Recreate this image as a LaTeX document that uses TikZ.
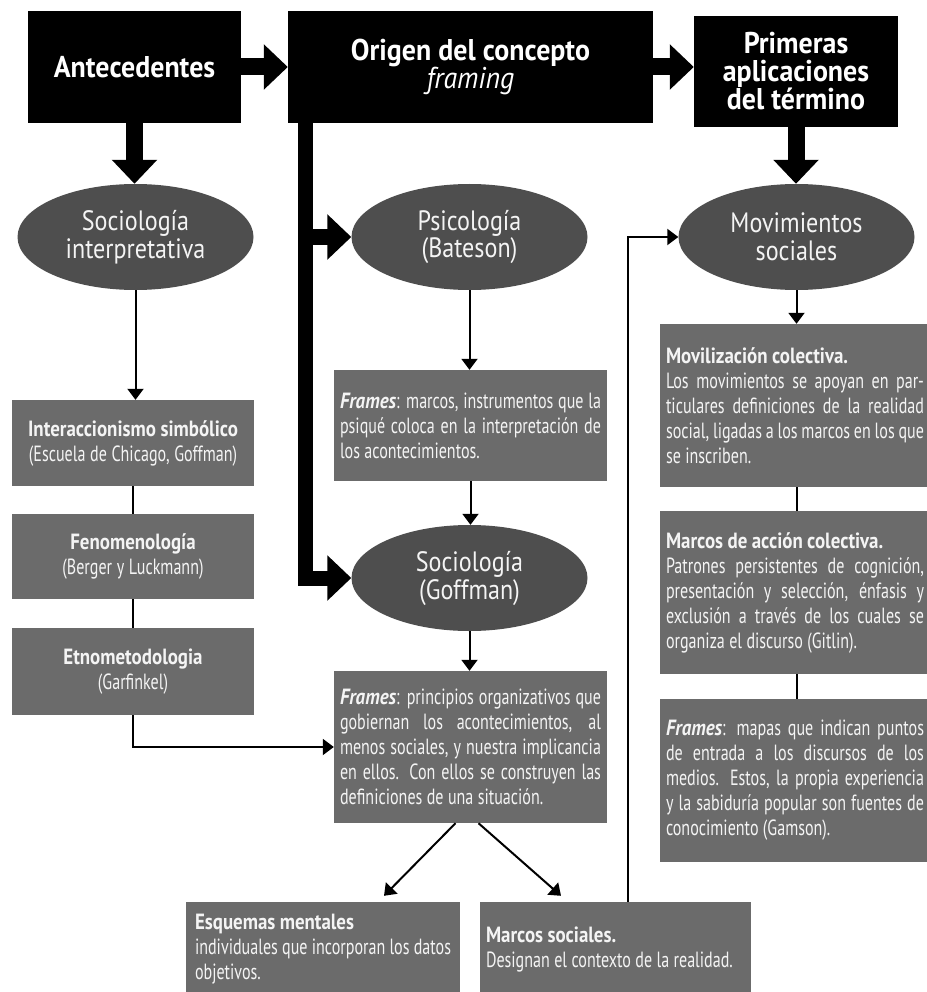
\documentclass[tikz,border=0pt]{standalone}
\usepackage{fontspec}
\setmainfont{PT Sans}
\newfontfamily\condf{PT Sans}[FakeStretch=0.73, BoldFeatures={FakeStretch=0.86}, BoldItalicFeatures={FakeStretch=0.86}]
\newfontfamily\ellf{PT Sans}[FakeStretch=0.86]
\newfontfamily\headf{PT Sans}[FakeStretch=0.93]
\usetikzlibrary{arrows.meta,calc,shapes.geometric}
\definecolor{boxgray}{HTML}{6B6B6B}
\definecolor{ellgray}{HTML}{4E4E4E}
\definecolor{txt}{HTML}{F4F4F4}
\newcommand\tightsp{\spaceskip=0.2em plus 0.4em minus 0.09em\relax}
\newcommand\fixsp{\spaceskip=0.21em\relax\xspaceskip=0.21em\relax}
\tikzset{
 headbox/.style={fill=black, text=white, font=\headf\bfseries\fontsize{30}{28}\selectfont, align=center, inner sep=0pt},
 ellnode/.style={ellipse, fill=ellgray, text=txt, minimum width=236pt, minimum height=106pt, inner sep=0pt, font=\ellf\fontsize{28}{28}\selectfont, align=center},
 graybox/.style={fill=boxgray, text=txt, inner ysep=0pt, inner xsep=6pt, font=\condf\fontsize{22}{25}\selectfont},
 bigarrow/.style={line width=17pt, -{Triangle[length=24pt,width=44pt]}},
 thinarrow/.style={line width=2pt, -{Triangle[length=11pt,width=16pt]}},
 thinline/.style={line width=2pt},
}
\begin{document}
\hyphenpenalty=10000
\exhyphenpenalty=10000
\begin{tikzpicture}[x=1pt,y=-1pt]
\fill[white] (0,0) rectangle (926,992);
\path[use as bounding box] (0,0) rectangle (926,992);
% header boxes
\node[headbox, minimum width=213pt, minimum height=112pt] (ante) at (134.5,67) {Antecedentes};
\node[headbox, minimum width=365pt, minimum height=112pt] (orig) at (470.5,67) {Origen del concepto\\{\mdseries\itshape framing}};
\node[headbox, minimum width=204pt, minimum height=111pt] (prim) at (796,71.5) {Primeras\\aplicaciones\\del término};
% ellipses
\node[ellnode] (soci) at (135.5,237) {Sociología\\interpretativa};
\node[ellnode] (psi) at (469.5,237) {Psicología\\(Bateson)};
\node[ellnode] (movi) at (796.5,237) {Movimientos\\sociales};
\node[ellnode] (goff) at (469.5,578) {Sociología\\(Goffman)};
% left column
\node[graybox, align=center, text width=230pt, minimum height=86pt] (inter) at (133,443) {\fixsp\textbf{Interaccionismo simbólico}\\(Escuela de Chicago, Goffman)};
\node[graybox, align=center, text width=230pt, minimum height=85pt] (feno) at (133,556.5) {\fixsp\textbf{Fenomenología}\\(Berger y Luckmann)};
\node[graybox, align=center, text width=230pt, minimum height=87pt] (etno) at (133,671.5) {\fixsp\textbf{Etnometodologia}\\(Garfinkel)};
% middle column
\node[graybox, align=justify, text width=261pt, minimum height=111pt] (bat) at (470.5,425.5) {\tightsp\textbf{\textit{Frames}}: marcos, instrumentos que la\linebreak psiqué coloca en la interpretación de\linebreak los acontecimientos.};
\node[graybox, align=justify, text width=261pt, minimum height=152pt] (fgof) at (470.5,747) {\tightsp\textbf{\textit{Frames}}: principios organizativos que\linebreak gobiernan los acontecimientos, al\linebreak menos sociales, y nuestra implicancia\linebreak en ellos. Con ellos se construyen las\linebreak definiciones de una situación.};
% right column
\node[graybox, align=justify, text width=258pt, minimum height=163pt] (mov) at (795,405.5) {\tightsp\textbf{Movilización colectiva.}\\Los movimientos se apoyan en par-\linebreak ticulares definiciones de la realidad\linebreak social, ligadas a los marcos en los que\linebreak se inscriben.};
\node[graybox, align=justify, text width=258pt, minimum height=163pt] (mac) at (795,592.5) {\tightsp\textbf{Marcos de acción colectiva.}\\Patrones persistentes de cognición,\linebreak presentación y selección, énfasis y\linebreak exclusión a través de los cuales se\linebreak organiza el discurso (Gitlin).};
\node[graybox, align=justify, text width=258pt, minimum height=163pt] (fgam) at (795,780.5) {\tightsp\textbf{\textit{Frames}}: mapas que indican puntos\linebreak de entrada a los discursos de los\linebreak medios. Estos, la propia experiencia\linebreak y la sabiduría popular son fuentes de\linebreak conocimiento (Gamson).};
% bottom
\node[graybox, align=justify, inner xsep=9pt, text width=256pt, minimum height=94pt] (esq) at (323,949) {\tightsp\textbf{Esquemas mentales}\\individuales que incorporan los datos\\objetivos.};
\node[graybox, align=justify, text width=259pt, minimum height=94pt] (ms) at (615.5,949) {\tightsp\textbf{Marcos sociales.}\\Designan el contexto de la realidad.};
% thick connectors
\draw[bigarrow] (ante.east) -- (orig.west);
\draw[bigarrow] (orig.east) -- (orig.east -| prim.west);
\draw[bigarrow] (ante.south) -- (ante.south |- soci.north);
\draw[bigarrow] (prim.south) -- (prim.south |- movi.north);
\coordinate (ob) at ([xshift=18pt,yshift=1pt]orig.south west);
\draw[bigarrow, line width=15pt] (ob) |- (goff.west);
\draw[bigarrow, line width=15pt] (ob |- psi.west) -- (psi.west);
% thin connectors
\draw[thinarrow] (soci.south) -- (soci.south |- inter.north);
\draw[thinline] (inter.south) -- (feno.north);
\draw[thinline] (feno.south) -- (etno.north);
\draw[thinarrow] (etno.south) |- (fgof.west);
\draw[thinarrow] (psi.south) -- (psi.south |- bat.north);
\draw[thinarrow] (bat.south) -- (bat.south |- goff.north);
\draw[thinarrow] (goff.south) -- (goff.south |- fgof.north);
\draw[thinarrow] ([xshift=-15pt]fgof.south) -- ([xshift=61pt,yshift=6pt]esq.north);
\draw[thinarrow] ([xshift=8pt]fgof.south) -- ([xshift=-54.5pt,yshift=6pt]ms.north);
\draw[thinarrow] ([xshift=12.5pt]ms.north) |- (movi.west);
\draw[thinarrow] (movi.south) -- (movi.south |- mov.north);
\draw[thinline] (movi.south |- mov.south) -- (movi.south |- mac.north);
\draw[thinline] (movi.south |- mac.south) -- (movi.south |- fgam.north);
\end{tikzpicture}
\end{document}
